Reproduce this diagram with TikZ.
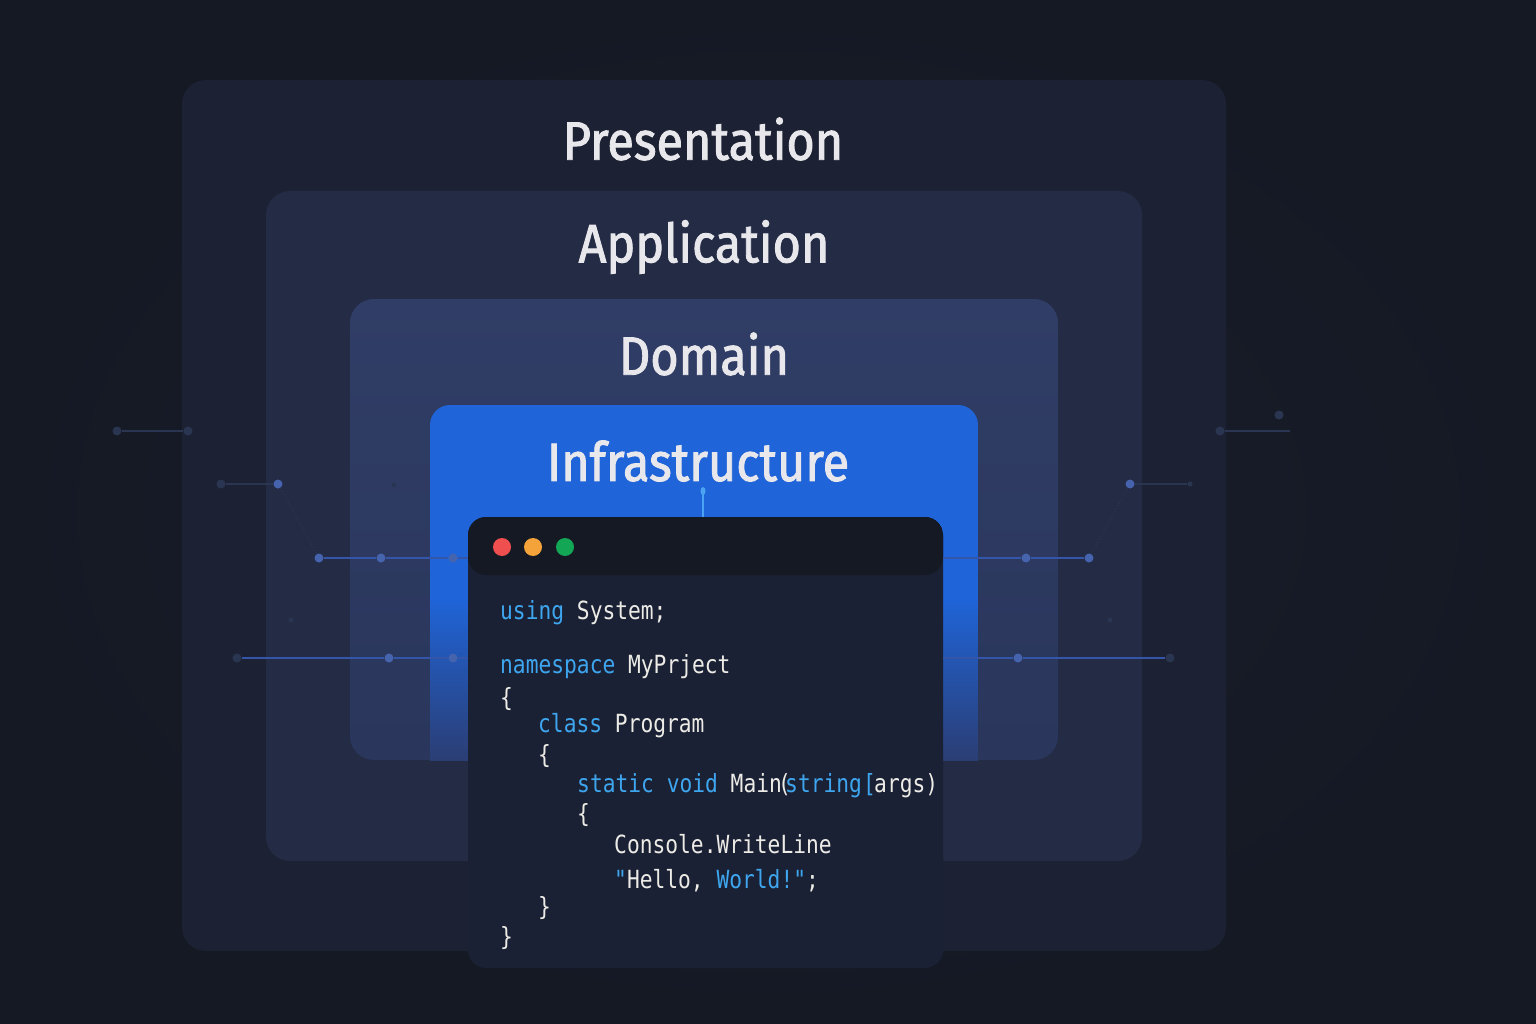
\documentclass[tikz,border=0pt]{standalone}
\usepackage{fontspec}
\setmainfont{Fira Sans}
\newfontfamily\titlefont{Fira Sans}[FakeBold=1.7,FakeStretch=0.9]
\newfontfamily\codefont{DejaVu Sans Mono}[FakeStretch=0.85]
\usetikzlibrary{positioning}

\definecolor{bgdark}{HTML}{141924}
\definecolor{bgmid}{HTML}{191E2C}
\definecolor{presfill}{HTML}{1C2233}
\definecolor{appfill}{HTML}{232B45}
\definecolor{domtop}{HTML}{303D66}
\definecolor{dombot}{HTML}{2A365B}
\definecolor{infrablue}{HTML}{1F64D8}
\definecolor{infrafade}{HTML}{2B3E74}
\definecolor{codehead}{HTML}{151924}
\definecolor{codebody}{HTML}{1B2135}
\definecolor{titlewhite}{HTML}{E8E8EC}
\definecolor{codewhite}{HTML}{ECEBE6}
\definecolor{kwblue}{HTML}{3EA6EE}
\definecolor{dotred}{HTML}{EF4F4E}
\definecolor{dotorange}{HTML}{F4A23A}
\definecolor{dotgreen}{HTML}{12A655}
\definecolor{lineblue}{HTML}{3556A8}
\definecolor{pinblue}{HTML}{4663AE}
\definecolor{pindim}{HTML}{2A3552}
\definecolor{tickblue}{HTML}{4BA3F2}

\newcommand\kwd[1]{\textcolor{kwblue}{#1}}

\begin{document}
\begin{tikzpicture}[x=1pt,y=-1pt]
\tikzset{
  layerbox/.style={rounded corners=24pt},
  layertitle/.style={font=\titlefont\fontsize{54}{60}\selectfont,text=titlewhite,inner sep=0pt},
  codewin/.style={rounded corners=18pt,fill=codebody,minimum width=475pt,minimum height=451pt,inner sep=0pt,
    path picture={\fill[codehead] (path picture bounding box.north west) rectangle ([yshift=-58pt]path picture bounding box.north east);}},
  codeline/.style={font=\codefont\fontsize{25}{28}\selectfont,text=codewhite,anchor=base west,inner sep=0pt},
  wdot/.style={circle,inner sep=0pt,minimum size=18pt},
  pin/.style={circle,fill=pinblue,inner sep=0pt,minimum size=9pt},
  dimpin/.style={pin,fill=pindim},
  pinline/.style={draw=lineblue,line width=1.3pt},
  dimline/.style={draw=pindim,line width=1.3pt},
  dotline/.style={draw=pindim,line width=1.2pt,dotted}
}
% background and layers
\shade[inner color=bgmid,outer color=bgdark] (0,0) rectangle (1536,1024);
\useasboundingbox (0,0) rectangle (1536,1024);
\fill[presfill,layerbox] (182,80) rectangle (1226,951);
\fill[appfill,layerbox] (266,191) rectangle (1142,861);
\shade[layerbox,top color=domtop,bottom color=dombot] (350,299) rectangle (1058,760);
\begin{scope}
  \clip[rounded corners=20pt] (430,405) rectangle (978,800);
  \fill[infrablue] (430,405) rectangle (978,600);
  \shade[top color=infrablue,bottom color=infrafade] (430,599) rectangle (978,760);
\end{scope}

\node[layertitle] (pres) at (703,139) {Presentation};
\node[layertitle] (app) at (704,247) {Application};
\node[layertitle] (dom) at (704,354) {Domain};
\node[layertitle] (infra) at (698,461) {Infrastructure};

% pins, left side
\node[dimpin] (pa1) at (117,431) {};
\node[dimpin] (pa2) at (188,431) {};
\node[dimpin] (pb1) at (221,484) {};
\node[pin] (pb2) at (278,484) {};
\node[pin] (pc1) at (319,558) {};
\node[pin] (pc2) at (381,558) {};
\node[pin] (pc3) at (453,558) {};
\node[dimpin] (pd1) at (237,658) {};
\node[pin] (pd2) at (389,658) {};
\node[pin] (pd3) at (453,658) {};
\node[dimpin,minimum size=5pt] (px1) at (394,485) {};
\node[dimpin,minimum size=5pt] (px2) at (291,620) {};
% pins, right side
\node[pin] (qc1) at (1026,558) {};
\node[pin] (qc2) at (1089,558) {};
\node[pin] (qb1) at (1130,484) {};
\node[dimpin,minimum size=5pt] (qb2) at (1190,484) {};
\node[dimpin] (qa1) at (1220,431) {};
\node[dimpin] (qa2) at (1279,415) {};
\node[pin] (qd1) at (1018,658) {};
\node[dimpin] (qd2) at (1170,658) {};
\node[dimpin,minimum size=5pt] (qx1) at (1110,620) {};

% code window
\node[codewin] (win) at (705.5,742.5) {};
\node[wdot,fill=dotred] (red) at (502,547) {};
\node[wdot,fill=dotorange] (orange) at (533,547) {};
\node[wdot,fill=dotgreen] (green) at (565,547) {};

\draw[dimline] (pa1) -- (pa2);
\draw[dimline] (pb1) -- (pb2);
\draw[dotline] (pb2) -- (pc1);
\draw[pinline] (pc1) -- (pc2) -- (pc3) -- (pc3 -| win.west);
\draw[pinline] (pd1) -- (pd2) -- (pd3) -- (pd3 -| win.west);
\draw[pinline] (qc1 -| win.east) -- (qc1) -- (qc2);
\draw[dotline] (qc2) -- (qb1);
\draw[dimline] (qb1) -- (qb2);
\draw[dimline] (qa1) -- ++(70,0);
\draw[pinline] (qd1 -| win.east) -- (qd1) -- (qd2);

\coordinate (tick) at (703,491);
\draw[tickblue,line width=1.5pt] (tick) -- (tick |- win.north);
\fill[tickblue] (tick) ellipse (2.5pt and 4pt);

% code
\node[codeline] (c1) at (500,619) {\kwd{using} System;};
\node[codeline] (c2) at (500,673) {\kwd{namespace} MyPrject};
\node[codeline] (c3) at (500,706) {\{};
\node[codeline] (c4) at (538,732) {\kwd{class} Program};
\node[codeline] (c5) at (538,763) {\{};
\node[codeline] (c6a) at (577,792) {\kwd{static void} Main};
\node[codeline] (c6b) at (778,792) {(};
\node[codeline] (c6c) at (785,792) {\kwd{string}};
\node[codeline] (c6d) at (863,792) {\kwd{[}};
\node[codeline] (c6e) at (874,792) {args)};
\node[codeline] (c7) at (577,822) {\{};
\node[codeline] (c8) at (614,853) {Console.WriteLine};
\node[codeline] (c9) at (614,888) {\kwd{"}Hello, \kwd{World!"};};
\node[codeline] (c10) at (538,915) {\}};
\node[codeline] (c11) at (500,945) {\}};
\end{tikzpicture}
\end{document}
